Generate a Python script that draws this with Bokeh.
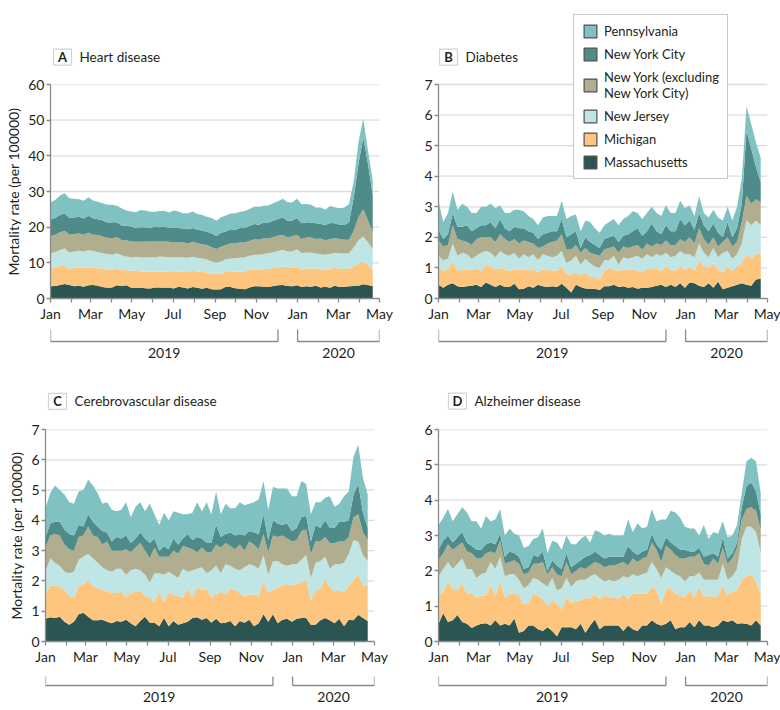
import pandas as pd
from bokeh.plotting import figure
from bokeh.models import (ColumnDataSource, Range1d, FixedTicker, Label,
                          BoxAnnotation, Legend, LegendItem)
from bokeh.layouts import row, column
from bokeh.embed import file_html
from bokeh.resources import INLINE
from bokeh.core.properties import value

# ---------------- data ----------------
WEEKS = pd.date_range("2019-01-01", periods=69, freq="7D")
KEYS = ["ma", "mi", "nj", "nyx", "nyc", "pa"]
STATES = ["Massachusetts", "Michigan", "New Jersey",
          "New York (excluding\nNew York City)", "New York City", "Pennsylvania"]
COLORS = ["#2a5553", "#fec57e", "#bfe5e5", "#b0ae8f", "#4f8c89", "#80c1c1"]
MONTH_TICKS = pd.date_range("2019-01-01", "2020-05-01", freq="MS")
MONTH_LABELS = ["Jan", "", "Mar", "", "May", "", "Jul", "", "Sep", "", "Nov", "",
                "Jan", "", "Mar", "", "May"]
YEARS = ["2019", "2020"]
YEAR_START = ["2019-01-01", "2020-01-01"]
YEAR_END = ["2019-12-03", "2020-05-01"]
Y_LABEL = "Mortality rate (per 100000)"

# Panel A: Heart disease
MASS_A = [3.4, 3.5, 3.8, 4.1, 3.8, 3.4, 3.6, 3.3, 3.7, 3.8,
          3.6, 3.2, 3.0, 3.1, 3.7, 3.5, 3.7, 3.0, 3.0, 3.0,
          2.9, 2.8, 3.1, 3.1, 3.0, 3.1, 2.8, 3.3, 3.1, 2.8,
          3.2, 3.0, 2.7, 3.0, 2.6, 2.5, 2.6, 3.3, 3.2, 2.9,
          2.7, 2.6, 3.1, 3.4, 3.4, 3.3, 3.2, 3.5, 3.7, 3.8,
          3.5, 3.4, 3.7, 3.2, 3.4, 3.3, 3.6, 3.1, 3.3, 3.0,
          3.6, 3.2, 3.3, 3.4, 3.5, 3.6, 4.0, 3.8, 3.4]
MICH_A = [5.1, 5.2, 5.3, 5.1, 4.3, 5.2, 5.0, 5.4, 5.0, 4.9,
          4.9, 5.1, 5.2, 5.0, 4.6, 4.5, 4.2, 4.8, 4.8, 4.6,
          4.7, 4.8, 4.4, 4.5, 4.6, 4.4, 4.6, 4.2, 4.4, 4.7,
          4.5, 4.6, 4.8, 4.3, 4.4, 4.3, 4.4, 4.1, 4.3, 4.6,
          4.8, 5.0, 4.8, 4.7, 4.8, 4.9, 5.1, 5.0, 5.0, 5.2,
          5.2, 5.2, 5.3, 4.9, 5.0, 5.1, 4.8, 5.0, 4.9, 5.2,
          5.0, 5.1, 5.0, 4.9, 5.5, 6.1, 6.4, 5.5, 4.7]
NJ_A = [4.2, 4.3, 4.5, 4.8, 4.7, 4.6, 4.8, 4.5, 4.8, 4.6,
        4.5, 4.4, 4.3, 4.2, 4.4, 4.1, 3.9, 3.8, 3.9, 4.0,
        3.9, 4.0, 4.1, 4.2, 4.1, 4.0, 4.2, 4.1, 4.0, 3.9,
        4.0, 3.8, 3.7, 3.6, 3.4, 3.2, 3.4, 3.6, 3.7, 3.8,
        3.9, 4.0, 4.1, 4.2, 4.1, 4.3, 4.4, 4.5, 4.6, 4.7,
        4.5, 4.6, 4.8, 4.6, 4.5, 4.4, 4.2, 4.3, 4.1, 4.3,
        4.2, 4.4, 4.3, 4.4, 5.4, 6.6, 7.0, 6.5, 5.8]
NYX_A = [4.8, 4.9, 5.0, 5.0, 5.1, 4.9, 4.8, 4.7, 4.9, 4.6,
         4.8, 4.7, 4.5, 4.6, 4.5, 4.3, 4.6, 4.4, 4.2, 4.3,
         4.5, 4.3, 4.4, 4.2, 4.3, 4.4, 4.2, 4.1, 4.3, 4.0,
         4.2, 4.1, 4.0, 4.1, 4.0, 3.9, 4.1, 4.0, 4.2, 4.1,
         4.3, 4.2, 4.1, 4.3, 4.2, 4.4, 4.1, 4.2, 4.3, 4.1,
         4.0, 4.2, 4.1, 4.0, 4.2, 4.3, 4.1, 4.4, 4.0, 4.2,
         4.1, 4.0, 3.9, 3.8, 4.6, 6.5, 7.6, 6.1, 4.7]
NYC_A = [4.8, 4.7, 4.9, 4.8, 4.7, 4.6, 4.7, 4.5, 4.8, 4.6,
         4.4, 4.5, 4.3, 4.5, 4.2, 4.1, 4.0, 4.2, 3.9, 4.1,
         4.0, 3.9, 4.1, 4.0, 4.2, 3.9, 4.0, 4.1, 3.8, 4.0,
         3.9, 3.8, 3.9, 3.7, 3.8, 3.6, 3.9, 3.8, 4.0, 3.9,
         4.1, 4.0, 4.2, 4.3, 4.2, 4.4, 4.5, 4.6, 4.7, 4.9,
         4.6, 4.5, 4.7, 4.4, 4.3, 4.2, 4.4, 4.1, 4.3, 4.5,
         4.2, 4.0, 4.1, 4.9, 9.4, 15.0, 20.2, 15.9, 10.3]
PENN_A = [4.7, 5.0, 5.4, 5.7, 5.5, 5.3, 4.9, 5.0, 5.2, 5.0,
          4.9, 4.8, 5.0, 4.9, 4.6, 4.8, 4.3, 4.2, 4.4, 4.8,
          4.7, 4.5, 4.2, 4.5, 4.4, 4.3, 4.9, 4.6, 4.3, 4.5,
          4.6, 4.4, 4.3, 4.2, 4.4, 4.3, 4.4, 4.5, 4.4, 4.6,
          4.5, 4.7, 4.8, 4.9, 5.0, 4.7, 4.8, 4.9, 5.0, 5.3,
          5.2, 5.0, 5.4, 5.3, 5.1, 5.0, 4.4, 4.6, 4.3, 4.7,
          4.5, 4.6, 4.9, 5.1, 4.5, 6.2, 5.2, 3.7, 4.1]

# Panel B: Diabetes
MASS_B = [.45, .35, .45, .50, .40, .38, .40, .42, .45, .38,
          .52, .45, .38, .45, .38, .38, .48, .30, .32, .40,
          .35, .45, .40, .38, .40, .38, .48, .35, .20, .45,
          .38, .33, .32, .32, .28, .40, .40, .45, .38, .40,
          .35, .38, .32, .35, .35, .38, .42, .45, .38, .45,
          .38, .50, .35, .52, .50, .42, .38, .50, .35, .55,
          .30, .35, .40, .45, .50, .45, .42, .62, .65]
MICH_B = [.60, .55, .50, .70, .50, .57, .55, .50, .53, .52,
          .58, .60, .57, .55, .57, .52, .47, .63, .63, .52,
          .60, .40, .55, .54, .52, .52, .57, .45, .58, .40,
          .37, .52, .40, .38, .34, .50, .60, .50, .52, .55,
          .57, .57, .58, .50, .65, .57, .58, .45, .67, .50,
          .52, .55, .60, .53, .40, .83, .67, .50, .80, .40,
          .55, .70, .50, .60, .65, 1.00, .88, .83, .85]
NJ_B = [.35, .35, .35, .60, .50, .55, .50, .38, .42, .60,
        .45, .45, .40, .55, .50, .50, .55, .37, .50, .43,
        .50, .40, .50, .48, .43, .50, .50, .35, .47, .55,
        .35, .45, .43, .35, .38, .35, .25, .45, .20, .40,
        .38, .40, .50, .45, .45, .40, .45, .50, .45, .40,
        .50, .50, .50, .40, .45, .55, .45, .35, .50, .40,
        .65, .50, .40, .40, .65, 1.10, 1.10, 1.10, .90]
NYX_B = [.50, .45, .45, .60, .55, .40, .40, .45, .55, .50,
         .45, .50, .50, .55, .50, .45, .45, .50, .45, .50,
         .35, .40, .25, .40, .50, .50, .55, .45, .35, .35,
         .40, .35, .35, .40, .40, .35, .40, .30, .40, .35,
         .35, .35, .35, .30, .35, .35, .35, .35, .40, .40,
         .35, .40, .40, .55, .45, .50, .45, .40, .35, .35,
         .35, .45, .40, .40, .70, .80, .70, .70, .75]
NYC_B = [.35, .25, .35, .40, .40, .45, .55, .45, .35, .40,
         .40, .50, .45, .50, .35, .35, .40, .50, .40, .35,
         .35, .30, .40, .35, .35, .30, .50, .40, .50, .45,
         .15, .35, .35, .30, .25, .35, .35, .35, .35, .35,
         .45, .50, .55, .45, .40, .75, .40, .35, .50, .45,
         .45, .65, .55, .55, .45, .50, .45, .45, .45, .45,
         .15, .50, .30, .45, .60, 2.15, 1.80, 1.05, .65]
PENN_B = [.95, .55, .70, .70, .55, .75, .60, .60, .50, .60,
          .60, .60, .65, .45, .50, .60, .55, .60, .55, .50,
          .45, .45, .55, .55, .50, .50, .60, .60, .60, .55,
          .55, .55, .65, .55, .50, .45, .50, .55, .55, .55,
          .60, .65, .50, .55, .60, .55, .60, .60, .65, .60,
          .60, .60, .55, .50, .45, .55, .40, .45, .45, .50,
          .55, .50, .55, .70, .80, .80, .80, .80, .80]

# Panel C: Cerebrovascular disease
MASS_C = [.75, .80, .78, .82, .65, .55, .65, .90, .95, .82,
          .70, .70, .72, .65, .60, .68, .65, .72, .60, .50,
          .68, .82, .62, .62, .50, .78, .50, .68, .55, .60,
          .65, .78, .80, .72, .78, .62, .75, .60, .62, .68,
          .50, .68, .62, .72, .50, .60, .90, .65, .90, .60,
          .72, .75, .65, .75, .78, .78, .55, .55, .70, .78,
          .70, .60, .75, .50, .72, .70, .88, .78, .68]
MICH_C = [.80, 1.05, 1.07, .98, 1.05, .95, .80, .95, .95, 1.18,
          1.15, 1.05, .98, 1.00, 1.00, .92, 1.00, .73, 1.00, 1.15,
          1.02, .68, .83, .68, 1.15, .52, 1.10, .87, .95, .85,
          1.10, .67, 1.00, .98, .97, .83, .80, 1.05, .93, 1.07,
          1.20, .92, .88, .83, 1.05, .90, 1.10, .95, .80, 1.20,
          1.13, 1.15, 1.20, 1.15, 1.17, 1.27, .80, 1.15, 1.05, 1.27,
          1.10, 1.05, .95, 1.10, 1.13, 1.35, 1.32, 1.07, 1.17]
NJ_C = [.75, .90, .75, .70, .60, .75, .85, .85, .90, .90,
        .90, .85, .75, .70, .70, .80, .75, .75, .75, .75,
        .65, .70, .50, .95, .60, .90, .70, .65, .60, .95,
        .55, .90, .60, .75, .50, .90, .95, .60, 1.00, .75,
        .70, .75, .95, 1.00, .95, .90, .85, .60, .95, .85,
        .70, .60, .70, .65, .75, .80, .75, .90, .90, .75,
        .60, .90, .85, 1.00, 1.05, 1.30, 1.10, 1.00, .80]
NYX_C = [.80, .75, .95, 1.00, .90, .80, .70, .75, .70, .90,
         .75, .85, .75, .95, .70, .60, .60, .85, .60, .70,
         .90, .80, .80, .85, .55, .60, .50, .80, .80, .75,
         .80, .70, .55, .65, .70, .60, .70, .85, .70, .65,
         .65, .85, .55, .75, .70, .65, .70, .75, .85, .80,
         .95, .90, .75, .80, .95, .85, .80, .70, .65, .65,
         .85, .70, .75, .70, .55, .75, .90, .75, .70]
NYC_C = [.35, .40, .40, .45, .50, .50, .50, .40, .30, .40,
         .45, .35, .45, .30, .30, .45, .40, .45, .30, .30,
         .35, .40, .50, .30, .20, .35, .25, .40, .30, .25,
         .45, .30, .50, .30, .30, .30, .65, .35, .30, .45,
         .45, .35, .50, .35, .40, .50, .65, .40, .50, .45,
         .35, .50, .35, .40, .45, .45, .40, .55, .45, .55,
         .50, .50, .65, .65, .55, .75, 1.00, .65, .40]
PENN_C = [.95, 1.00, 1.20, 1.05, 1.15, 1.05, 1.05, 1.10, 1.20, 1.15,
          1.20, 1.10, .90, 1.00, 1.05, .85, .95, 1.10, .85, 1.05,
          1.00, .90, 1.30, .80, .85, 1.10, .95, .90, 1.05, .80,
          .65, .90, 1.15, .90, 1.35, .95, 1.10, .75, 1.00, .80,
          .90, 1.05, 1.00, .90, 1.00, 1.15, 1.10, 1.00, 1.10, 1.15,
          1.20, 1.15, 1.15, 1.05, 1.20, 1.05, .90, .75, .85, .75,
          1.05, .70, .60, .85, .95, 1.25, 1.30, 1.15, 1.10]

# Panel D: Alzheimer disease
MASS_D = [.50, .80, .55, .60, .75, .55, .50, .38, .45, .50,
          .52, .45, .60, .45, .50, .45, .65, .25, .30, .45,
          .45, .35, .30, .40, .30, .15, .40, .40, .40, .35,
          .50, .25, .45, .62, .35, .45, .45, .45, .45, .30,
          .45, .35, .30, .45, .45, .60, .50, .45, .50, .60,
          .35, .40, .40, .55, .40, .60, .45, .45, .40, .45,
          .60, .55, .60, .50, .52, .50, .45, .60, .45]
MICH_D = [.80, .60, 1.15, .90, .70, 1.10, .85, .97, .80, .80,
          .78, 1.15, .70, 1.25, .75, .90, .70, 1.05, .75, .65,
          .90, .95, .90, .60, .85, .95, .50, .85, .70, .80,
          .65, 1.00, .75, .73, .85, .85, .80, .80, .75, 1.05,
          .75, 1.00, 1.05, .90, .90, .95, .95, .60, 1.00, .90,
          1.00, .90, .85, .90, .85, .95, .80, .85, .85, .85,
          1.00, .75, .80, .95, 1.23, 1.35, 1.45, 1.10, .90]
NJ_D = [.55, .65, .55, .55, .75, .70, .70, .70, .55, .60,
        .65, .65, .75, .70, .60, .55, .55, .45, .45, .50,
        .45, .45, .45, .55, .65, .35, .60, .55, .45, .55,
        .60, .50, .65, .55, .60, .40, .50, .45, .55, .50,
        .60, .55, .50, .55, .60, .70, .60, .75, .60, .50,
        .55, .55, .45, .40, .60, .40, .50, .45, .50, .45,
        .60, .45, .45, .60, 1.15, 1.40, 1.35, 1.40, 1.15]
NYX_D = [.45, .45, .50, .55, .50, .45, .50, .45, .55, .45,
         .55, .30, .45, .45, .35, .35, .40, .45, .40, .35,
         .40, .45, .60, .35, .30, .45, .35, .45, .35, .30,
         .35, .30, .30, .35, .40, .40, .40, .45, .45, .40,
         .35, .45, .40, .45, .45, .55, .55, .45, .60, .60,
         .55, .50, .65, .55, .55, .55, .45, .40, .60, .45,
         .45, .45, .50, .60, .55, .50, .55, .60, .65]
NYC_D = [.30, .35, .25, .20, .25, .30, .25, .20, .25, .25,
         .25, .25, .25, .20, .20, .30, .20, .20, .15, .15,
         .25, .20, .30, .10, .20, .25, .20, .25, .20, .20,
         .20, .35, .30, .30, .25, .25, .25, .25, .20, .15,
         .55, .20, .20, .20, .20, .25, .15, .35, .25, .20,
         .25, .25, .25, .15, .15, .15, .20, .30, .15, .20,
         .30, .15, .15, .15, .35, .65, .70, .55, .45]
PENN_D = [.70, .65, .75, .60, .65, .70, .85, .70, .80, .60,
          .80, .60, .70, .70, .60, .65, .55, .60, .60, .60,
          .45, .55, .65, .50, .55, .65, .55, .50, .65, .55,
          .60, .60, .35, .60, .65, .65, .65, .60, .60, .60,
          .75, .55, .90, .65, .65, .70, .65, .85, .50, .90,
          .95, .90, .65, .65, .65, .35, .90, .45, .60, .65,
          .45, .60, .50, .50, .40, .70, .70, .85, .60]

PANELS = [
    ("A", "Heart disease", [MASS_A, MICH_A, NJ_A, NYX_A, NYC_A, PENN_A], 60, 10),
    ("B", "Diabetes", [MASS_B, MICH_B, NJ_B, NYX_B, NYC_B, PENN_B], 7, 1),
    ("C", "Cerebrovascular disease", [MASS_C, MICH_C, NJ_C, NYX_C, NYC_C, PENN_C], 7, 1),
    ("D", "Alzheimer disease", [MASS_D, MICH_D, NJ_D, NYX_D, NYC_D, PENN_D], 6, 1),
]
for _l, _t, _series, _m, _s in PANELS:
    for _arr in _series:
        assert len(_arr) == len(WEEKS), (_l, len(_arr))

# ---------------- style / layout ----------------
FONT = "Lato"
TXT = "#231f20"
AXIS = "#8a8a8a"
GRID = "#dcdcdc"
FW = 329                      # width of the data area
LEFT_W = 414                  # canvas width of the left column
R_LEFT, R_RIGHT = 24, 13      # right column borders
RIGHT_W = R_LEFT + FW + R_RIGHT


def ms(d):
    return pd.Timestamp(d).value / 1e6


X0, X1 = ms("2019-01-01"), ms("2020-05-01")
TICKS_MS = [ms(t) for t in MONTH_TICKS]


def add_title(p, letter, title, bx, by):
    p.add_layout(BoxAnnotation(left=bx, right=bx + 18, bottom=by - 8, top=by + 8,
                               left_units="screen", right_units="screen",
                               bottom_units="screen", top_units="screen",
                               fill_color="white", fill_alpha=1,
                               line_color="#6e6e6e", line_width=1.2))
    p.add_layout(Label(x=bx + 9, y=by, x_units="screen", y_units="screen",
                       text=letter, text_font=FONT, text_font_style="bold",
                       text_font_size="13px", text_color=TXT,
                       text_align="center", text_baseline="middle"))
    p.add_layout(Label(x=bx + 26, y=by, x_units="screen", y_units="screen",
                       text=title, text_font=FONT, text_font_size="13.5px",
                       text_color=TXT, text_align="left", text_baseline="middle"))


def header_fig(width, height, letter, title, bx, by):
    h = figure(x_range=Range1d(0, 1), y_range=Range1d(0, 1), frame_width=width,
               frame_height=height, min_border=0, x_axis_location=None,
               y_axis_location=None, output_backend="svg", toolbar_location=None)
    h.outline_line_color = None
    h.grid.visible = False
    add_title(h, letter, title, bx, by)
    return h


def main_fig(series, ymax, ystep, fh, left, right, top, ylabel, ext=0):
    src = ColumnDataSource(dict(x=WEEKS, **{k: v for k, v in zip(KEYS, series)}))
    p = figure(x_range=Range1d(X0, X1), y_range=Range1d(0, ymax * (fh + ext) / fh),
               x_axis_type="datetime", frame_width=FW, frame_height=fh + ext,
               min_border_left=left, min_border_right=right,
               min_border_top=top, min_border_bottom=24,
               output_backend="svg", toolbar_location=None)
    p.outline_line_color = None
    p.varea_stack(stackers=KEYS, x="x", color=COLORS, source=src)

    xa = p.xaxis[0]
    xa.ticker = FixedTicker(ticks=TICKS_MS, minor_ticks=[])
    xa.major_label_overrides = {t: lab for t, lab in zip(TICKS_MS, MONTH_LABELS)}
    ya = p.yaxis[0]
    yticks = list(range(0, ymax + 1, ystep))
    ya.ticker = FixedTicker(ticks=yticks, minor_ticks=[])
    ya.bounds = (0, ymax)
    for ax in (xa, ya):
        ax.axis_line_color = AXIS
        ax.axis_line_width = 1.3
        ax.major_tick_line_color = AXIS
        ax.major_tick_line_width = 1.3
        ax.major_tick_in = 0
        ax.major_tick_out = 4
        ax.minor_tick_line_color = None
        ax.major_label_text_font = FONT
        ax.major_label_text_font_size = "14px"
        ax.major_label_text_color = TXT
    xa.major_label_standoff = 2
    ya.major_label_standoff = 2
    if ylabel:
        ya.axis_label = Y_LABEL
        ya.axis_label_text_font = FONT
        ya.axis_label_text_font_size = "14px"
        ya.axis_label_text_font_style = "normal"
        ya.axis_label_text_color = TXT
        ya.axis_label_standoff = 3
    p.xgrid.visible = False
    p.ygrid.visible = False
    g = [t for t in yticks if t > 0]
    p.segment(x0=[X0] * len(g), x1=[X1] * len(g), y0=g, y1=g,
              line_color=GRID, line_width=1.3, level="underlay")
    return p


def bracket_fig(x_range, left, right, bh, br_top, br_bot, yr_y):
    b = figure(x_range=x_range, y_range=Range1d(0, bh), frame_width=FW,
               frame_height=bh, min_border_left=left, min_border_right=right,
               min_border_top=0, min_border_bottom=0, x_axis_location=None,
               y_axis_location=None, output_backend="svg", toolbar_location=None)
    b.outline_line_color = None
    b.grid.visible = False
    xs, ys, mids = [], [], []
    for s, e in zip(YEAR_START, YEAR_END):
        xs.append([ms(s), ms(s), ms(e), ms(e)])
        ys.append([br_top, br_bot, br_bot, br_top])
        mids.append((ms(s) + ms(e)) / 2)
    b.multi_line(xs=xs, ys=ys, line_color=AXIS, line_width=1.3)
    b.text(x=mids, y=[yr_y] * len(mids), text=YEARS, text_font=value(FONT),
           text_font_size="14px", text_color=TXT, text_align="center",
           text_baseline="middle")
    return b


def left_column(panel, left, head_h, fh, bh, br_top, br_bot, yr_y, by):
    letter, title, series, ymax, ystep = panel
    right = LEFT_W - left - FW
    h = header_fig(LEFT_W, head_h, letter, title, 3, by)
    p = main_fig(series, ymax, ystep, fh, left, right, 10, True)
    b = bracket_fig(p.x_range, left, right, bh, br_top, br_bot, yr_y)
    return column(h, p, b, spacing=0)


# ---- Panel A (left, row 1): two-digit tick labels need a wider border
colA = left_column(PANELS[0], 50, 74, 214, 40, 35, 23, 12, 17.3)

# ---- Panel B (right, row 1): frame reaches the top so the legend fits inside
lb, tb, sb, mb, stb = PANELS[1]
pB = main_fig(sb, mb, stb, 214, R_LEFT, R_RIGHT, 0, False, ext=84)
add_title(pB, lb, tb, 1, 214 + 84 - 56.7)
items = []
for i in reversed(range(len(KEYS))):
    r = pB.quad(left=[float("nan")], right=[float("nan")],
                top=[float("nan")], bottom=[float("nan")],
                fill_color=COLORS[i], line_color="#505050", line_width=1.2)
    items.append(LegendItem(label=STATES[i], renderers=[r]))
legend = Legend(items=items, location=(135, 119), orientation="vertical",
                glyph_width=16, glyph_height=16, spacing=7, padding=8,
                label_standoff=6, margin=0,
                label_text_font=FONT, label_text_font_size="13px",
                label_text_color=TXT, border_line_color="#8f8f8f",
                border_line_width=1.5, background_fill_color="white",
                background_fill_alpha=1)
pB.add_layout(legend)
bB = bracket_fig(pB.x_range, R_LEFT, R_RIGHT, 40, 35, 23, 12)
colB = column(pB, bB, spacing=0)

# ---- Panel C (left, row 2)
colC = left_column(PANELS[2], 45, 55, 212, 43, 34, 25, 14, 18.2)

# ---- Panel D (right, row 2)
ld, td, sd, md, std = PANELS[3]
hD = header_fig(RIGHT_W, 55, ld, td, R_LEFT - 14, 18.3)
pD = main_fig(sd, md, std, 212, R_LEFT, R_RIGHT, 10, False)
bD = bracket_fig(pD.x_range, R_LEFT, R_RIGHT, 43, 34, 25, 14)
colD = column(hD, pD, bD, spacing=0)

layout = column(row(colA, colB, spacing=0), row(colC, colD, spacing=0), spacing=0)

with open("out.html", "w") as f:
    f.write(file_html(layout, INLINE))
